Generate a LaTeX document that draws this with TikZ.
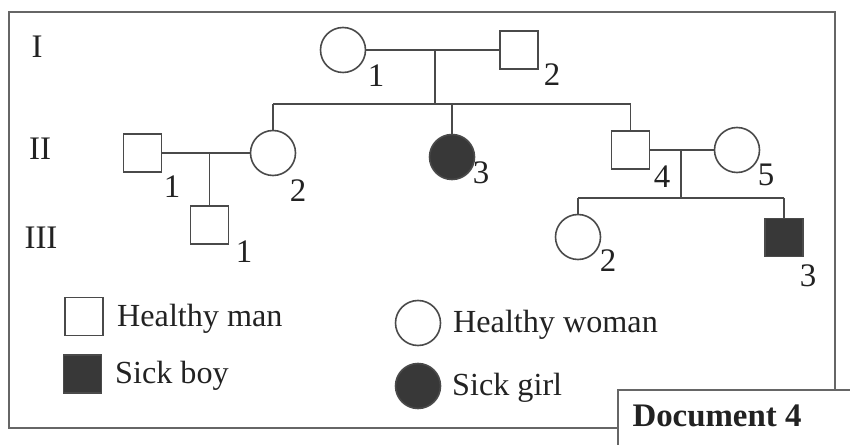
\documentclass[tikz,border=0pt]{standalone}
\usepackage{fontspec}
\setmainfont{Liberation Serif}
\definecolor{pdline}{HTML}{4A4A4A}
\definecolor{pdfill}{HTML}{383838}
\definecolor{pdframe}{HTML}{666666}
\definecolor{pdtext}{HTML}{222222}

\begin{document}
\begin{tikzpicture}[x=1bp,y=-1bp,
  male/.style={draw=pdline,line width=1.6bp,minimum size=38bp,inner sep=0pt},
  female/.style={draw=pdline,line width=1.6bp,circle,minimum size=45bp,inner sep=0pt},
  sick/.style={fill=pdfill},
  link/.style={pdline,line width=1.4bp},
  num/.style={pdtext,font=\fontsize{33}{38}\selectfont,inner sep=0pt},
  legend/.style={pdtext,font=\fontsize{32.3}{38}\selectfont,inner sep=0pt,anchor=base west}]

  \useasboundingbox (0,0) rectangle (850,445);

  % --- frame ---
  \draw[pdframe,line width=2bp] (835,390) -- (835,12) -- (9,12) -- (9,428) -- (618,428);

  % --- generations ---
  \node[num] (geni)   at (37,47)  {I};
  \node[num] (genii)  at (40,149) {II};
  \node[num] (geniii) at (41,238) {III};

  % --- generation I ---
  \node[female] (i1) at (343,50) {};
  \node[male]   (i2) at (519,50) {};
  \node[num] at (376,76) {1};
  \node[num] at (552,75) {2};
  \draw[link] (i1) -- (i2);
  \coordinate (m1) at (435,50);
  \coordinate (s1) at (435,104);
  \draw[link] (m1) -- (s1);

  % --- generation II ---
  \node[male]        (ii1) at (142.5,153) {};
  \node[female]      (ii2) at (273,153) {};
  \node[female,sick] (ii3) at (452,157) {};
  \node[male]        (ii4) at (630.5,150) {};
  \node[female]      (ii5) at (737,150) {};
  \node[num] at (172,187) {1};
  \node[num] at (298,191) {2};
  \node[num] at (481,173) {3};
  \node[num] at (662,177) {4};
  \node[num] at (766,175) {5};
  \draw[link] (ii2 |- s1) -- (ii4 |- s1);
  \draw[link] (ii2 |- s1) -- (ii2);
  \draw[link] (ii3 |- s1) -- (ii3);
  \draw[link] (ii4 |- s1) -- (ii4);
  \draw[link] (ii1) -- (ii2);
  \draw[link] (ii4) -- (ii5);

  % --- generation III ---
  \node[male]      (iii1) at (209.5,225) {};
  \node[female]    (iii2) at (578,237) {};
  \node[male,sick] (iii3) at (784,237.5) {};
  \node[num] at (244,252) {1};
  \node[num] at (608,261) {2};
  \node[num] at (808,276) {3};
  \draw[link] (iii1 |- ii1) -- (iii1);
  \coordinate (m3) at (681,150);
  \coordinate (s3) at (681,198);
  \draw[link] (m3) -- (s3);
  \draw[link] (iii2 |- s3) -- (iii3 |- s3);
  \draw[link] (iii2 |- s3) -- (iii2);
  \draw[link] (iii3 |- s3) -- (iii3);

  % --- legend ---
  \node[male]        (kman)   at (84,316.5) {};
  \node[male,sick]   (kboy)   at (82.5,374) {};
  \node[female]      (kwoman) at (418,323) {};
  \node[female,sick] (kgirl)  at (418,386) {};
  \node[legend] (tman)   at (117,327) {Healthy man};
  \node[legend] (tboy)   at (115,384) {Sick boy};
  \node[legend] (twoman) at (453,333) {Healthy woman};
  \node[legend] (tgirl)  at (452,395) {Sick girl};

  % --- document box ---
  \draw[pdframe,line width=2bp,fill=white] (618,390) rectangle (862,460);
  \node[pdtext,font=\fontsize{33}{38}\selectfont\bfseries,inner sep=0pt] (doc) at (717,416) {Document 4};

\end{tikzpicture}
\end{document}
